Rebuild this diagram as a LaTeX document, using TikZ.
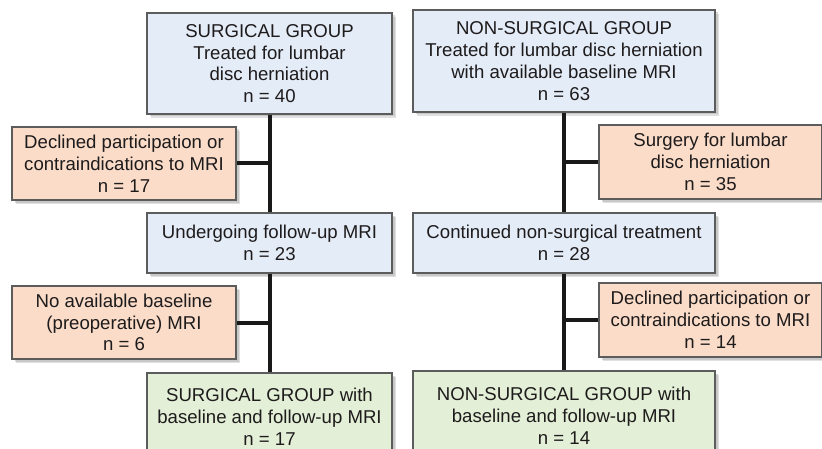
\documentclass[tikz,border=0pt]{standalone}
\usepackage{fontspec}
\setmainfont{Liberation Sans}
\usepackage{tikz}
\usetikzlibrary{positioning, calc, shadows}
\definecolor{groupblue}{HTML}{E4ECF7}
\definecolor{exclorange}{HTML}{FADCC8}
\definecolor{finalgreen}{HTML}{E3EFD6}
\definecolor{boxborder}{HTML}{5C5C5C}
\definecolor{inktext}{HTML}{1E1B1C}
\tikzset{
    box/.style={draw=boxborder, line width=1.1pt, inner sep=0pt, align=center,
        text=inktext, font=\fontsize{18.6}{21.8}\selectfont,
        general shadow={shadow xshift=4pt, shadow yshift=-4pt, fill=black!12},
        drop shadow={shadow xshift=2.5pt, shadow yshift=-2.5pt, fill=black!30}},
    group/.style={box, fill=groupblue},
    excl/.style={box, fill=exclorange},
    final/.style={box, fill=finalgreen},
    link/.style={draw=black!90, line width=4pt}
}
\begin{document}
\begin{tikzpicture}[x=1pt, y=1pt]
    \useasboundingbox (0,0) rectangle (822,448);

    % trunk positions
    \coordinate (sgtrunk) at (269.5,0);
    \coordinate (nstrunk) at (564,0);

    % boxes
    \foreach \name/\sty/\cx/\cy/\w/\h/\txt in {
        sgtop/group/269.5/384.5/245/101/{SURGICAL GROUP\\Treated for lumbar\\disc herniation\\n = 40},
        nstop/group/564/387/302/102/{NON-SURGICAL GROUP\\Treated for lumbar disc herniation\\with available baseline MRI\\n = 63},
        sgout1/excl/124/284.5/224/73/{Declined participation or\\contraindications to MRI\\n = 17},
        nsout1/excl/710.5/286/223/74/{Surgery for lumbar\\disc herniation\\n = 35},
        sgfu/group/269.5/205/245/60/{Undergoing follow-up MRI\\n = 23},
        nsct/group/564/205/302/60/{Continued non-surgical treatment\\n = 28},
        sgout2/excl/124/125.5/224/73/{No available baseline\\(preoperative) MRI\\n = 6},
        nsout2/excl/710.5/128/223/74/{Declined participation or\\contraindications to MRI\\n = 14},
        sgfin/final/269.5/31.5/245/87/{SURGICAL GROUP with\\baseline and follow-up MRI\\n = 17},
        nsfin/final/564/32.5/302/89/{NON-SURGICAL GROUP with\\baseline and follow-up MRI\\n = 14}}
    {
        \node[\sty, minimum width=\w, minimum height=\h] (\name) at (\cx,\cy) {\txt};
    }

    % trunks
    \foreach \upper/\lower in {
        sgtop/sgfu, sgfu/sgfin,
        nstop/nsct, nsct/nsfin}
    {
        \draw[link] (\upper.south) -- (\lower.north);
    }

    % branches to the excluded
    \foreach \out/\side/\trunk in {
        sgout1/east/sgtrunk, sgout2/east/sgtrunk,
        nsout1/west/nstrunk, nsout2/west/nstrunk}
    {
        \draw[link] (\out.\side) -- (\out.\side -| \trunk);
    }
\end{tikzpicture}
\end{document}
